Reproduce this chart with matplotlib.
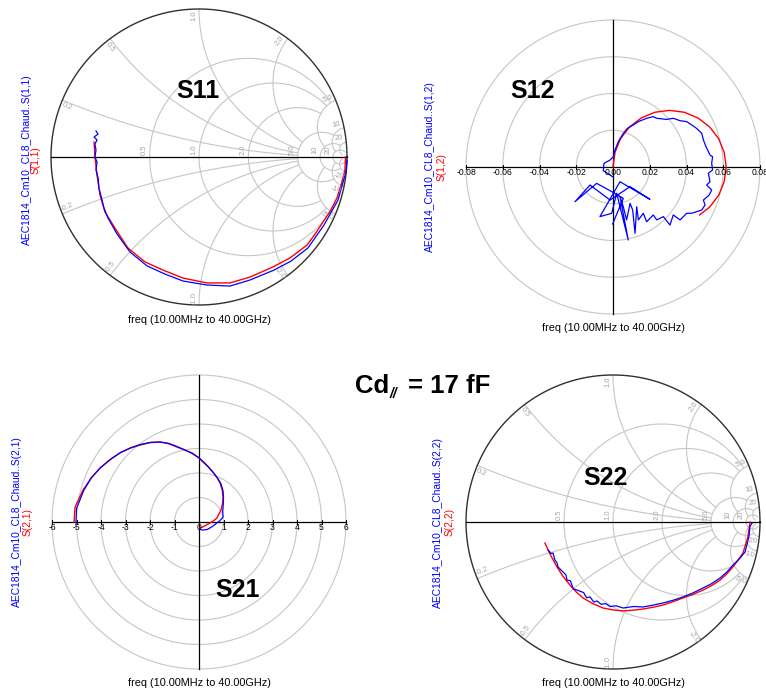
import numpy as np
import matplotlib.pyplot as plt

plt.rcParams["font.family"] = ["Liberation Sans", "DejaVu Sans"]

W, H, DPI = 766, 693, 100
GRID = "#c6c6c6"
GRID_TEXT = "#a4a4a4"
MODEL = "#ff0000"
MEAS = "#0000ff"
FREQ_LABEL = "freq (10.00MHz to 40.00GHz)"
MEAS_NAME = "AEC1814_Cm10_CL8_Chaud..S({})"

# ---------------------------------------------------------------------------
# Data read off the reference (complex values as (real, imag) pairs)
# ---------------------------------------------------------------------------
S11_MODEL = [
    (0.990, 0.0), (0.986, -0.088), (0.960, -0.190), (0.932, -0.277), (0.890, -0.360),
    (0.838, -0.439), (0.785, -0.520), (0.730, -0.595), (0.615, -0.682), (0.500, -0.743),
    (0.345, -0.811), (0.209, -0.851), (0.054, -0.851), (-0.108, -0.818), (-0.243, -0.764),
    (-0.365, -0.709), (-0.480, -0.615), (-0.568, -0.480), (-0.635, -0.372), (-0.669, -0.257),
    (-0.689, -0.122), (-0.703, 0.0), (-0.709, 0.101),
]
S11_MEAS = [
    (1.0, -0.02), (0.993, -0.101), (0.939, -0.291), (0.845, -0.459), (0.736, -0.615),
    (0.622, -0.703), (0.507, -0.764), (0.345, -0.831), (0.209, -0.872), (0.054, -0.865),
    (-0.108, -0.838), (-0.230, -0.791), (-0.351, -0.736), (-0.466, -0.642), (-0.554, -0.520),
    (-0.615, -0.412), (-0.642, -0.345), (-0.662, -0.264), (-0.676, -0.209), (-0.682, -0.142),
    (-0.696, -0.088), (-0.689, -0.034), (-0.703, 0.0), (-0.696, 0.047), (-0.703, 0.088),
    (-0.689, 0.115), (-0.709, 0.135), (-0.682, 0.155), (-0.696, 0.176),
]

S12_MODEL = [
    (0.0, 0.0), (0.0011, 0.0080), (0.0041, 0.0154), (0.0090, 0.0218), (0.0154, 0.0267),
    (0.0228, 0.0298), (0.0308, 0.0308), (0.0388, 0.0298), (0.0462, 0.0267), (0.0526, 0.0218),
    (0.0575, 0.0154), (0.0605, 0.0080), (0.0616, 0.0), (0.0605, -0.0080), (0.0575, -0.0154),
    (0.0526, -0.0218), (0.0471, -0.0261),
]
S12_MEAS_MILLI = [
    (-0.2, -5.3), (-5.3, -2.0), (-4.9, 2.0), (-1.6, 3.8), (0.2, 5.6), (1.1, 9.3), (2.9, 13.8),
    (5.6, 18.3), (7.8, 21.0), (11.1, 22.9), (13.8, 24.7), (18.3, 26.5), (21.9, 27.4),
    (23.8, 26.5), (29.2, 25.9), (32.8, 26.5), (36.5, 25.2), (40.1, 24.7), (42.8, 22.9),
    (45.5, 21.0), (48.3, 18.3), (49.2, 14.7), (50.6, 11.1), (52.8, 6.5), (54.2, 5.6),
    (53.7, 2.0), (54.2, -1.6), (51.9, -3.4), (52.8, -8.0), (51.0, -9.8), (53.7, -12.5),
    (52.4, -15.2), (49.2, -18.0), (50.1, -20.7), (48.3, -23.4), (45.5, -24.3), (42.8, -25.2),
    (40.1, -25.2), (38.3, -27.0), (36.5, -28.8), (32.8, -26.1), (31.0, -31.6), (27.4, -27.0),
    (23.8, -28.8), (21.9, -26.1), (18.3, -29.8), (16.5, -25.2), (13.8, -28.8), (12.9, -21.6),
    (12.0, -36.1), (10.7, -23.4), (9.3, -19.8), (7.4, -28.8), (5.6, -21.6), (3.8, -16.1),
    (8.3, -39.7), (2.0, -14.3), (-0.7, -25.2), (-7.1, -27.0), (3.8, -8.0), (20.1, -17.6),
    (9.3, -10.7), (-1.6, -18.0), (-12.5, -9.8), (-20.7, -18.9), (-8.9, -8.9), (-0.7, -13.4),
    (5.6, -17.1), (-0.2, -31.0),
]

S21_MODEL = [
    (-5.10, 0.00), (-5.06, 0.61), (-4.73, 1.31), (-4.40, 1.80), (-4.04, 2.20), (-3.62, 2.55),
    (-3.22, 2.82), (-2.80, 3.02), (-2.41, 3.14), (-2.00, 3.24), (-1.59, 3.27), (-1.25, 3.20),
    (-0.90, 3.06), (-0.60, 2.95), (-0.29, 2.82), (0.00, 2.62), (0.16, 2.45), (0.38, 2.25),
    (0.57, 2.04), (0.74, 1.80), (0.86, 1.59), (0.95, 1.30), (0.98, 1.02), (0.96, 0.75),
    (0.90, 0.49), (0.80, 0.30), (0.73, 0.16), (0.60, 0.05), (0.45, -0.04), (0.30, -0.12),
    (0.16, -0.20), (0.04, -0.24),
]
S21_MEAS = [
    (-5.02, -0.05), (-5.00, 0.55), (-4.70, 1.30), (-4.38, 1.82), (-4.02, 2.22), (-3.60, 2.57),
    (-3.20, 2.84), (-2.78, 3.03), (-2.40, 3.16), (-1.98, 3.25), (-1.60, 3.26), (-1.24, 3.21),
    (-0.90, 3.08), (-0.58, 2.94), (-0.28, 2.80), (0.02, 2.60), (0.20, 2.44), (0.40, 2.23),
    (0.58, 2.02), (0.76, 1.79), (0.90, 1.55), (0.98, 1.28), (1.00, 1.00), (0.99, 0.72),
    (0.97, 0.45), (0.98, 0.20), (0.85, 0.05), (0.73, -0.04), (0.55, -0.18), (0.35, -0.30),
    (0.15, -0.33), (0.05, -0.30),
]

S22_MODEL = [
    (0.932, 0.0), (0.925, -0.05), (0.918, -0.100), (0.900, -0.160), (0.884, -0.211),
    (0.850, -0.260), (0.816, -0.306), (0.775, -0.352), (0.728, -0.395), (0.672, -0.432),
    (0.612, -0.463), (0.545, -0.492), (0.476, -0.517), (0.408, -0.542), (0.340, -0.565),
    (0.272, -0.580), (0.204, -0.592), (0.136, -0.600), (0.068, -0.605), (0.0, -0.598),
    (-0.068, -0.585), (-0.136, -0.556), (-0.204, -0.517), (-0.250, -0.476), (-0.293, -0.429),
    (-0.340, -0.370), (-0.381, -0.306), (-0.425, -0.225), (-0.463, -0.143),
]
S22_MEAS = [
    (0.946, -0.007), (0.932, -0.030), (0.925, -0.100), (0.912, -0.150), (0.898, -0.204),
    (0.860, -0.250), (0.816, -0.293), (0.775, -0.340), (0.728, -0.381), (0.670, -0.420),
    (0.612, -0.449), (0.545, -0.482), (0.476, -0.510), (0.410, -0.532), (0.340, -0.551),
    (0.270, -0.566), (0.204, -0.578), (0.140, -0.575), (0.068, -0.585), (0.020, -0.570),
    (-0.020, -0.575), (-0.050, -0.555), (-0.080, -0.560), (-0.109, -0.537), (-0.130, -0.545),
    (-0.156, -0.510), (-0.180, -0.515), (-0.200, -0.480), (-0.245, -0.463), (-0.270, -0.455),
    (-0.290, -0.400), (-0.313, -0.395), (-0.320, -0.360), (-0.340, -0.340), (-0.350, -0.330),
    (-0.374, -0.306), (-0.380, -0.280), (-0.395, -0.259), (-0.400, -0.240), (-0.408, -0.211),
    (-0.420, -0.215), (-0.442, -0.190),
]

S12_TICKS = [-0.08, -0.06, -0.04, -0.02, 0.0, 0.02, 0.04, 0.06, 0.08]
S21_TICKS = [-6, -5, -4, -3, -2, -1, 0, 1, 2, 3, 4, 5, 6]

# Smith grid: (value, clip limit on the other coordinate)
R_CIRCLES = [(0.5, 5), (1.0, 5), (2.0, 5), (5.0, 10), (10.0, 20), (20.0, 50)]
X_ARCS = [(0.2, 5), (0.5, 5), (1.0, 5), (2.0, 5), (5.0, 10), (10.0, 20), (20.0, 50)]


def fmt_grid(v: float) -> str:
    return f"{v:.1f}" if abs(v) < 10 else f"{v:.0f}"


def place_axes(fig, cx, cy, r_px, r_data, pad=1.12):
    """Axes whose data origin sits at pixel (cx, cy), r_data spanning r_px."""
    half = r_px * pad
    ax = fig.add_axes([(cx - half) / W, (H - cy - half) / H, 2 * half / W, 2 * half / H])
    lim = r_data * pad
    ax.set_xlim(-lim, lim)
    ax.set_ylim(-lim, lim)
    ax.axis("off")
    return ax


def smith_grid(ax, r_px):
    t = np.linspace(0, 2 * np.pi, 721)
    px = 1.0 / r_px
    for r, xmax in R_CIRCLES:
        xs = np.concatenate([-np.geomspace(xmax, 1e-4, 400), [0.0], np.geomspace(1e-4, xmax, 400)])
        g = (r + 1j * xs - 1) / (r + 1j * xs + 1)
        ax.plot(g.real, g.imag, color=GRID, lw=0.8, clip_on=False)
        ax.text((r - 1) / (r + 1) - 5 * px, 7 * px, fmt_grid(r), rotation=90,
                ha="center", va="center", fontsize=5.5, color=GRID_TEXT)
    for xv, rmax in X_ARCS:
        rs = np.concatenate([[0.0], np.geomspace(1e-4, rmax, 500)])
        for sgn in (1, -1):
            z = rs + 1j * sgn * xv
            g = (z - 1) / (z + 1)
            ax.plot(g.real, g.imag, color=GRID, lw=0.8, clip_on=False)
            theta = np.angle(g[0])
            lab_th = theta + sgn * 5 * px
            rot = np.degrees(theta)
            if rot > 90:
                rot -= 180
            elif rot <= -90:
                rot += 180
            ax.text(0.955 * np.cos(lab_th), 0.955 * np.sin(lab_th), fmt_grid(sgn * xv),
                    rotation=rot, rotation_mode="anchor", ha="center", va="center",
                    fontsize=5.5, color=GRID_TEXT)
    ax.plot(np.cos(t), np.sin(t), color="#303030", lw=1.0, clip_on=False)
    ax.plot([-1, 1], [0, 0], color="black", lw=0.9, clip_on=False)


def polar_grid(ax, ticks, r_px, labels):
    t = np.linspace(0, 2 * np.pi, 721)
    rmax = max(ticks)
    px = rmax / r_px
    for v in ticks:
        if v > 0:
            ax.plot(v * np.cos(t), v * np.sin(t), color=GRID, lw=0.8, clip_on=False)
    ax.plot([-rmax, rmax], [0, 0], color="black", lw=0.9, clip_on=False)
    ax.plot([0, 0], [-rmax, rmax], color="black", lw=0.9, clip_on=False)
    for v, lab in zip(ticks, labels):
        ax.plot([v, v], [-2 * px, 2 * px], color="black", lw=0.7)
        ax.text(v, -5.5 * px, lab, ha="center", va="center", fontsize=6.2, color="black")


def plot_pair(ax, model, meas, scale=1.0):
    m = np.array(model).T
    d = np.array(meas).T * scale
    ax.plot(m[0], m[1], color=MODEL, lw=1.0, clip_on=False)
    ax.plot(d[0], d[1], color=MEAS, lw=0.9, clip_on=False)


def side_labels(fig, x_blue, x_red, cy, port):
    fig.text(x_blue / W, 1 - cy / H, MEAS_NAME.format(port), rotation=90,
             ha="center", va="center", fontsize=7.4, color=MEAS)
    fig.text(x_red / W, 1 - cy / H, f"S({port})", rotation=90,
             ha="center", va="center", fontsize=7.4, color=MODEL)


def main() -> None:
    fig = plt.figure(figsize=(W / DPI, H / DPI), dpi=DPI)
    fig.patch.set_facecolor("white")

    # S11 (Smith)
    ax11 = place_axes(fig, 199, 157, 148, 1.0)
    smith_grid(ax11, 148)
    plot_pair(ax11, S11_MODEL, S11_MEAS)

    # S12 (polar, linear)
    ax12 = place_axes(fig, 613, 167, 147, 0.08)
    polar_grid(ax12, S12_TICKS, 147, [f"{v:.2f}" for v in S12_TICKS])
    plot_pair(ax12, S12_MODEL, S12_MEAS_MILLI, scale=1e-3)

    # S21 (polar, linear)
    ax21 = place_axes(fig, 199, 522, 147, 6)
    polar_grid(ax21, S21_TICKS, 147, [str(v) for v in S21_TICKS])
    plot_pair(ax21, S21_MODEL, S21_MEAS)

    # S22 (Smith)
    ax22 = place_axes(fig, 613, 522, 147, 1.0)
    smith_grid(ax22, 147)
    plot_pair(ax22, S22_MODEL, S22_MEAS)

    side_labels(fig, 27, 36, 160, "1,1")
    side_labels(fig, 430, 442, 167, "1,2")
    side_labels(fig, 17, 28, 522, "2,1")
    side_labels(fig, 438, 450, 522, "2,2")

    for cx, y in [(199, 320), (613, 328), (199, 683), (613, 683)]:
        fig.text(cx / W, 1 - y / H, FREQ_LABEL, ha="center", va="center", fontsize=7.8)

    for name, cx, cy in [("S11", 198, 91), ("S12", 533, 91), ("S21", 238, 590), ("S22", 605, 478)]:
        fig.text(cx / W, 1 - cy / H, name, ha="center", va="center",
                 fontsize=18, fontweight="bold")

    # Cd// = 17 fF
    fig.text(355 / W, 1 - 393 / H, "Cd", ha="left", va="baseline",
             fontsize=18.5, fontweight="bold")
    fig.text(390 / W, 1 - 398 / H, "//", ha="left", va="baseline",
             fontsize=10, fontweight="bold", fontstyle="italic")
    fig.text(408 / W, 1 - 393 / H, "= 17 fF", ha="left", va="baseline",
             fontsize=18.5, fontweight="bold")

    fig.savefig("out.png", dpi=DPI, facecolor="white")


if __name__ == "__main__":
    main()
